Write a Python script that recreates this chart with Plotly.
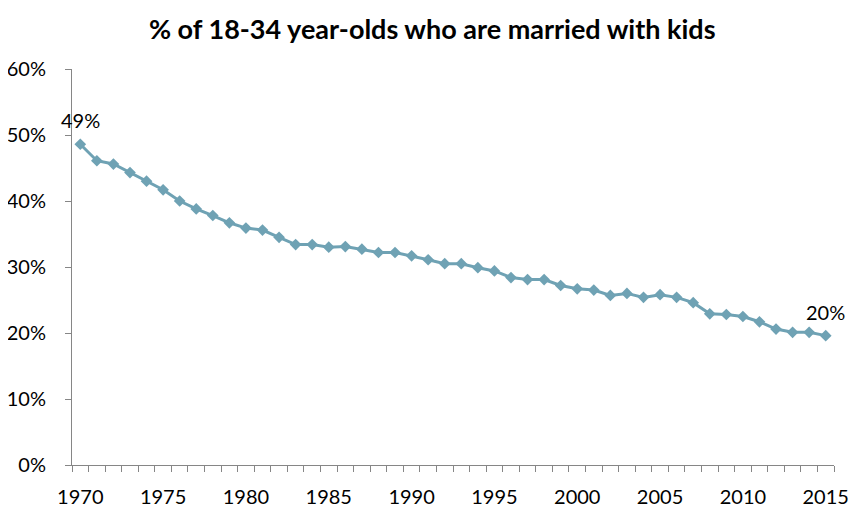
import plotly.graph_objects as go

years = list(range(1970, 2016))
share = [48.6, 46.1, 45.6, 44.3, 43.0, 41.7, 40.0, 38.8, 37.8, 36.7,
         35.9, 35.6, 34.5, 33.4, 33.4, 33.0, 33.1, 32.7, 32.2, 32.2,
         31.7, 31.1, 30.5, 30.5, 29.9, 29.4, 28.4, 28.1, 28.1, 27.2,
         26.7, 26.5, 25.7, 26.0, 25.4, 25.8, 25.4, 24.6, 22.9, 22.8,
         22.5, 21.7, 20.6, 20.1, 20.1, 19.6]
share = [v / 100 for v in share]
year_ticks = list(range(1970, 2016, 5))
y_ticks = [0, 0.1, 0.2, 0.3, 0.4, 0.5, 0.6]
label_years = [1970, 2015]
label_texts = ["49%", "20%"]

line_color = "#6FA2B4"
axis_color = "#868686"
font_family = "Lato, 'Open Sans', sans-serif"

fig = go.Figure()
fig.add_trace(go.Scatter(
    x=years, y=share, mode="lines+markers",
    line=dict(color=line_color, width=3),
    marker=dict(symbol="diamond", size=9, color=line_color),
    hoverinfo="skip", showlegend=False,
))

for yr, txt in zip(label_years, label_texts):
    fig.add_annotation(x=yr, y=share[years.index(yr)], text=txt,
                       showarrow=False, yshift=24,
                       font=dict(family=font_family, size=20, color="#000000"))

fig.update_layout(
    width=864, height=518,
    margin=dict(l=64, r=38, t=61, b=61, autoexpand=False),
    paper_bgcolor="white", plot_bgcolor="white",
    title=dict(text="<b>% of 18-34 year-olds who are married with kids</b>",
               x=0.491, xanchor="center", y=0.958, yanchor="middle",
               font=dict(family=font_family, size=27, color="#000000")),
    font=dict(family=font_family, size=20, color="#000000"),
    xaxis=dict(
        range=[1969.5, 2015.5], tickvals=year_ticks,
        ticktext=[str(v) for v in year_ticks],
        ticks="", showgrid=False, zeroline=False,
        showline=True, linecolor=axis_color, linewidth=1,
        minor=dict(ticks="outside", tick0=1969.5, dtick=1, ticklen=6,
                   tickcolor=axis_color, tickwidth=1, showgrid=False),
        ticklabelstandoff=14, automargin=False,
    ),
    yaxis=dict(
        range=[0, 0.6], tickvals=y_ticks, tickformat=".0%",
        ticks="outside", ticklen=6, tickcolor=axis_color,
        showgrid=False, zeroline=False,
        showline=True, linecolor=axis_color, linewidth=1,
        ticklabelstandoff=15, automargin=False,
    ),
)

fig.write_html("out.html")
